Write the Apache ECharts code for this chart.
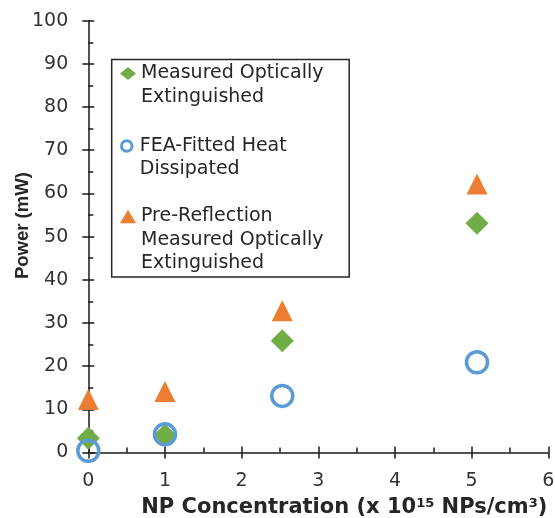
<!DOCTYPE html>
<html>
<head>
<meta charset="utf-8">
<script src="https://cdn.jsdelivr.net/npm/echarts@6/dist/echarts.min.js"></script>
<style>html,body{margin:0;padding:0;background:#fff;}#c{width:555px;height:518px;}</style>
</head>
<body>
<div id="c"></div>
<script>
// ---- data ----
const concentrations = [0, 1, 2.53, 5.07];
const measured = [3.3, 4.0, 25.9, 53.1];
const feaFitted = [0.4, 4.2, 13.1, 20.9];
const preReflection = [12.3, 14.1, 32.8, 62.2];
const seriesNames = ['Measured Optically Extinguished', 'FEA-Fitted Heat Dissipated', 'Pre-Reflection Measured Optically Extinguished'];
const legendLines = [['Measured Optically', 'Extinguished'], ['FEA-Fitted Heat', 'Dissipated'], ['Pre-Reflection', 'Measured Optically', 'Extinguished']];
const xTicks = {min: 0, max: 6, interval: 1};
const yTicks = {min: 0, max: 100, interval: 10};

const GREEN = '#70AD47', BLUE = '#5B9BD5', ORANGE = '#ED7D31';
const TXT = '#262626', TICK = '#333333', AX = '#1a1a1a';
const pairs = ys => concentrations.map((x, i) => [x, ys[i]]);

const GRID = {left: 88.3, right: 6.7, top: 20.7, bottom: 65.5};
const GW = 555 - GRID.left - GRID.right;
const GH = 518 - GRID.top - GRID.bottom;

const L = 23.5;
const legendCenters = [73.5, 146, 216.5];
const legendIcons = [
  {icon: 'diamond', itemStyle: {color: GREEN}, h: 13},
  {icon: 'circle', itemStyle: {color: '#fff', borderColor: BLUE, borderWidth: 3}, h: 10.5},
  {icon: 'triangle', itemStyle: {color: ORANGE}, h: 13.5}
];
const legends = seriesNames.map((name, i) => {
  const n = legendLines[i].length;
  const H = (2 * n - 1) * L;
  return {
    show: true, selectedMode: false, orient: 'vertical', padding: 0,
    left: 120, top: legendCenters[i] - H / 2,
    itemWidth: 16, itemHeight: legendIcons[i].h,
    data: [{name: name, icon: legendIcons[i].icon, itemStyle: legendIcons[i].itemStyle}],
    formatter: () => '\n'.repeat(n - 1) + legendLines[i].join('\n'),
    textStyle: {fontFamily: 'DejaVu Sans', fontSize: 19, lineHeight: L, color: TXT}
  };
});

const tickStyle = {color: AX, width: 1.5};
const chart = echarts.init(document.getElementById('c'), null, {renderer: 'canvas'});
chart.setOption({
  animation: false,
  backgroundColor: '#fff',
  grid: Object.assign({containLabel: false, outerBoundsMode: 'none'}, GRID),
  legend: legends,
  xAxis: [{
    type: 'value', position: 'bottom', min: xTicks.min, max: xTicks.max, interval: xTicks.interval,
    axisLine: {show: true, onZero: false, lineStyle: tickStyle},
    axisTick: {show: true, inside: false, length: 6, lineStyle: tickStyle},
    splitLine: {show: false},
    axisLabel: {margin: 19, fontFamily: 'DejaVu Sans', fontSize: 19, color: TICK},
    name: 'NP Concentration (x 10{sup|15} NPs/cm{sup|3})',
    nameLocation: 'middle', nameGap: 45, nameMoveOverlap: false,
    nameTextStyle: {fontFamily: 'DejaVu Sans', fontWeight: 'bold', fontSize: 21, color: TXT, padding: [0, 0, 0, 52],
      rich: {sup: {fontFamily: 'DejaVu Sans', fontWeight: 'bold', fontSize: 13, color: TXT, verticalAlign: 'top'}}}
  }, {
    // overlay axis at the bottom edge: ticks pointing up into the plot
    type: 'value', position: 'top', offset: -GH, min: xTicks.min, max: xTicks.max, interval: xTicks.interval,
    axisLine: {show: false, onZero: false},
    axisTick: {show: true, inside: false, length: 6, lineStyle: tickStyle},
    minorTick: {show: true, splitNumber: 2, length: 5, lineStyle: tickStyle},
    splitLine: {show: false}, axisLabel: {show: false}
  }],
  yAxis: [{
    type: 'value', position: 'left', min: yTicks.min, max: yTicks.max, interval: yTicks.interval,
    axisLine: {show: true, onZero: false, lineStyle: tickStyle},
    axisTick: {show: true, inside: false, length: 6, lineStyle: tickStyle},
    splitLine: {show: false},
    axisLabel: {margin: 20, fontFamily: 'DejaVu Sans', fontSize: 19, color: TICK},
    name: 'Power (mW)', nameLocation: 'middle', nameGap: 56, nameMoveOverlap: false,
    nameTextStyle: {fontFamily: "'Liberation Sans', Arial", fontWeight: 'bold', fontSize: 18.5, color: TXT, padding: [0, 0, 0, 22]}
  }, {
    // overlay axis at the left edge: ticks pointing right into the plot
    type: 'value', position: 'right', offset: -GW, min: yTicks.min, max: yTicks.max, interval: yTicks.interval,
    axisLine: {show: false, onZero: false},
    axisTick: {show: true, inside: false, length: 6, lineStyle: tickStyle},
    minorTick: {show: true, splitNumber: 2, length: 5, lineStyle: tickStyle},
    splitLine: {show: false}, axisLabel: {show: false}
  }],
  graphic: [{
    type: 'rect', z: 0, silent: true,
    shape: {x: 111.7, y: 59.5, width: 237.5, height: 217.5},
    style: {fill: 'none', stroke: TXT, lineWidth: 1.5}
  }],
  series: [{
    name: seriesNames[0], type: 'scatter', xAxisIndex: 0, yAxisIndex: 0,
    symbol: 'diamond', symbolSize: 23, itemStyle: {color: GREEN, opacity: 1},
    data: pairs(measured), z: 3
  }, {
    name: seriesNames[1], type: 'scatter', xAxisIndex: 0, yAxisIndex: 0,
    symbol: 'circle', symbolSize: 21, itemStyle: {color: 'rgba(0,0,0,0)', borderColor: BLUE, borderWidth: 3.5, opacity: 1},
    data: pairs(feaFitted), z: 4
  }, {
    name: seriesNames[2], type: 'scatter', xAxisIndex: 0, yAxisIndex: 0,
    symbol: 'triangle', symbolSize: 21, itemStyle: {color: ORANGE, opacity: 1},
    data: pairs(preReflection), z: 5
  }]
});
</script>
</body>
</html>
